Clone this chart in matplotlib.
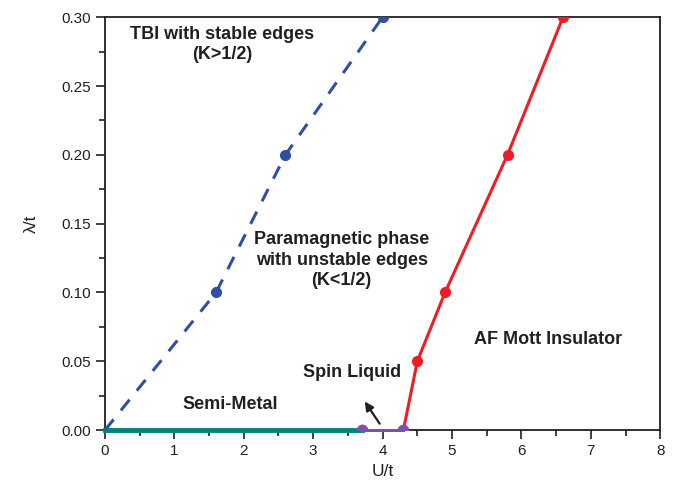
import matplotlib
matplotlib.use('Agg')
import matplotlib.pyplot as plt
from matplotlib.ticker import MultipleLocator

plt.rcParams['font.family'] = ['Liberation Sans', 'DejaVu Sans']

# phase boundaries
tbi_u = [0.0, 1.6, 2.6, 4.0]
tbi_lam = [0.0, 0.1, 0.2, 0.3]
af_u = [4.3, 4.5, 4.9, 5.8, 6.6]
af_lam = [0.0, 0.05, 0.1, 0.2, 0.3]
sm_u = [0.0, 3.7]
sl_u = [3.7, 4.3]

fig = plt.figure(figsize=(6.73, 4.91), dpi=100)
ax = fig.add_axes([0.156, 0.124, 0.825, 0.841])

ax.plot(sm_u, [0, 0], color='#00827f', lw=3.5, zorder=3, clip_on=False)
ax.plot(sl_u, [0, 0], color='#7b52ab', lw=2.2, zorder=4, clip_on=False)
ax.plot(sl_u, [0, 0], 'o', color='#7b52ab', ms=7.5, zorder=5)
ax.plot(tbi_u, tbi_lam, color='#2e4fa3', lw=2.2, dashes=(4.5, 3.8), zorder=3)
ax.plot(tbi_u[1:], tbi_lam[1:], 'o', color='#2e4fa3', ms=7, zorder=4)
ax.plot(af_u, af_lam, color='#ee1c25', lw=2.2, zorder=3)
ax.plot(af_u[1:], af_lam[1:], 'o', color='#ee1c25', ms=7, zorder=4)

ax.annotate('', xy=(3.72, 0.0225), xytext=(3.98, 0.003),
            arrowprops=dict(arrowstyle='-|>', color='#231f20', lw=1.6, mutation_scale=13))

kw = dict(fontsize=13, fontweight='bold', color='#231f20', ha='center', va='center')
ax.text(1.69, 0.28, 'TBI with stable edges\n(K>1/2)', linespacing=1.25, **kw)
ax.text(3.41, 0.1235, 'Paramagnetic phase\nwith unstable edges\n(K<1/2)', linespacing=1.25, **kw)
ax.text(6.38, 0.0655, 'AF Mott Insulator', **kw)
ax.text(3.56, 0.0415, 'Spin Liquid', **kw)
ax.text(1.8, 0.0185, 'Semi-Metal', **kw)

ax.set_xlim(0, 8)
ax.set_ylim(0, 0.30)
ax.xaxis.set_major_locator(MultipleLocator(1))
ax.xaxis.set_minor_locator(MultipleLocator(0.5))
ax.yaxis.set_major_locator(MultipleLocator(0.05))
ax.yaxis.set_minor_locator(MultipleLocator(0.025))
ax.yaxis.set_major_formatter(plt.FormatStrFormatter('%.2f'))
ax.tick_params(which='major', length=6.5, width=1.2, direction='out', labelsize=11, colors='#231f20')
ax.tick_params(which='minor', length=4, width=1.2, direction='out', colors='#231f20')
for s in ax.spines.values():
    s.set_linewidth(1.3)
    s.set_color('#231f20')
ax.set_xlabel('U/t', fontsize=12.5, color='#231f20', labelpad=4)
ax.set_ylabel('λ/t', fontsize=12.5, color='#231f20', labelpad=16)

fig.savefig('out.png', dpi=100)
